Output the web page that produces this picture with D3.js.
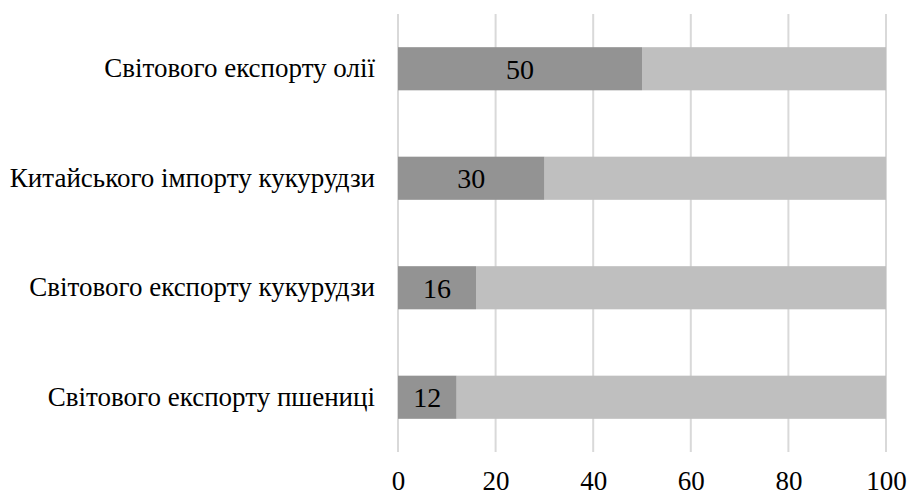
<!DOCTYPE html>
<html><head><meta charset="utf-8">
<script src="https://cdn.jsdelivr.net/npm/d3@7"></script>
<style>body{margin:0;background:#fff}svg{display:block}</style>
</head><body><svg id="c" width="911" height="497" font-family="Liberation Serif"></svg>
<script>
const categories = ["Світового експорту олії","Китайського імпорту кукурудзи","Світового експорту кукурудзи","Світового експорту пшениці"];
const values = [50, 30, 16, 12];
const totals = [100, 100, 100, 100];
const ticks = [0, 20, 40, 60, 80, 100];
const FONT = "Liberation Serif";

const svg = d3.select("#c");
const x = d3.scaleLinear().domain([0,100]).range([398, 886]);
const y = d3.scaleBand().domain(categories).range([14, 452]).paddingInner(0.606).paddingOuter(0.303);

svg.append("g").selectAll("line").data(ticks).join("line")
  .attr("x1", d=>x(d)).attr("x2", d=>x(d)).attr("y1", 14).attr("y2", 452)
  .attr("stroke", "#d9d9d9").attr("stroke-width", 2);

const data = categories.map((c,i)=>({c, v: values[i], t: totals[i]}));
svg.append("g").selectAll("rect").data(data).join("rect")
  .attr("x", d=>x(d.v)).attr("y", d=>y(d.c)).attr("width", d=>x(d.t)-x(d.v)).attr("height", y.bandwidth())
  .attr("fill", "#bfbfbf");
svg.append("g").selectAll("rect").data(data).join("rect")
  .attr("x", x(0)).attr("y", d=>y(d.c)).attr("width", d=>x(d.v)-x(0)).attr("height", y.bandwidth())
  .attr("fill", "#939393");
svg.append("g").selectAll("text").data(data).join("text")
  .attr("x", d=>(x(0)+x(d.v))/2).attr("y", d=>y(d.c)+y.bandwidth()/2).attr("dy","0.36em")
  .attr("text-anchor","middle").attr("font-size", 28).attr("font-family", FONT).attr("fill","#000").text(d=>d.v);

const yAxis = d3.axisLeft(y).tickSize(0).tickPadding(23);
const ga = svg.append("g").attr("transform", `translate(${x(0)},0)`).call(yAxis);
ga.attr("font-family", FONT);
ga.select(".domain").remove();
ga.selectAll("text").attr("font-size", 27).attr("fill","#000").attr("font-family", FONT);

const xAxis = d3.axisBottom(x).tickValues(ticks).tickSize(0).tickPadding(0).tickFormat(d3.format("d"));
const gx = svg.append("g").attr("transform", "translate(0,471)").call(xAxis);
gx.attr("font-family", FONT);
gx.select(".domain").remove();
gx.selectAll("text").attr("font-size", 27).attr("fill","#000").attr("font-family", FONT);
</script></body></html>
